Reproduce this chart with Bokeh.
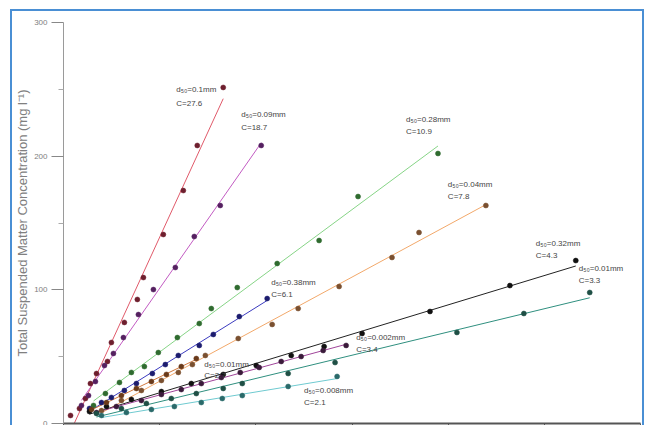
import numpy as np
from bokeh.plotting import figure
from bokeh.models import Range1d, FixedTicker
from bokeh.core.properties import value
from bokeh.embed import file_html
from bokeh.resources import INLINE

# ---------------- data ----------------
y_ticks = [0, 100, 200, 300]
y_minor = [50, 150, 250]
x_ticks = [0, 10, 20, 30, 40, 50, 60]

d50_labels = ["d₅₀=0.1mm", "d₅₀=0.09mm", "d₅₀=0.28mm", "d₅₀=0.04mm", "d₅₀=0.38mm",
              "d₅₀=0.32mm", "d₅₀=0.002mm", "d₅₀=0.01mm", "d₅₀=0.01mm", "d₅₀=0.008mm"]
c_labels = ["C=27.6", "C=18.7", "C=10.9", "C=7.8", "C=6.1",
            "C=4.3", "C=3.4", "C=2.7", "C=3.3", "C=2.1"]

s1_x = [16.61, 13.91, 12.46, 10.38, 8.31, 7.68, 6.33, 4.98, 4.57, 3.43, 2.80, 2.28, 1.66, 0.73]
s1_y = [251.4, 208.0, 174.3, 141.4, 109.2, 92.8, 75.6, 60.6, 46.4, 37.4, 29.9, 18.7, 11.2, 6.0]

s2_x = [20.56, 16.30, 13.60, 11.63, 9.35, 7.79, 6.23, 5.19, 4.26, 3.32, 2.60, 1.87]
s2_y = [208.0, 163.1, 139.9, 116.7, 100.2, 81.5, 64.3, 52.4, 43.4, 31.4, 20.9, 13.5]

s3_x = [38.94, 30.63, 26.58, 22.22, 18.07, 15.37, 14.12, 11.84, 9.86, 8.41, 7.06, 5.82, 4.36, 3.12]
s3_y = [202.0, 169.8, 136.9, 119.7, 101.7, 86.0, 74.8, 64.3, 53.1, 42.6, 38.2, 30.7, 22.4, 13.5]

s4_x = [43.92, 36.97, 34.16, 28.66, 24.40, 21.70, 18.17, 14.75, 13.40, 11.94, 10.18, 8.10, 6.02, 3.95]
s4_y = [163.1, 142.9, 124.2, 102.5, 86.0, 74.1, 63.6, 50.9, 44.1, 38.2, 32.2, 24.7, 17.2, 9.7]

s5_x = [21.18, 18.28, 15.58, 14.12, 11.94, 10.59, 9.24, 7.58, 6.33, 4.98, 3.95, 2.70]
s5_y = [93.5, 80.0, 66.6, 58.4, 50.9, 44.1, 37.4, 29.9, 24.7, 19.5, 15.7, 11.2]

s6_x = [53.27, 46.42, 38.11, 31.05, 27.10, 23.68, 20.04, 16.61, 13.29, 10.18, 7.06, 4.47, 2.70]
s6_y = [121.9, 103.2, 83.8, 67.3, 57.6, 50.9, 43.4, 36.7, 29.9, 23.9, 18.0, 12.7, 9.0]

s7_x = [29.39, 27.00, 24.71, 22.64, 20.35, 18.38, 16.41, 14.33, 12.25, 10.18, 8.10, 5.50, 3.43]
s7_y = [58.4, 54.6, 50.1, 46.4, 41.9, 38.2, 34.4, 29.9, 25.4, 21.7, 17.2, 12.7, 8.2]

s8_x = [13.81, 12.25, 10.70, 9.14, 7.58, 6.02, 4.47, 2.91]
s8_y = [48.6, 42.6, 36.7, 31.4, 26.2, 20.9, 15.7, 10.5]

s9_x = [54.72, 47.87, 40.91, 28.24, 23.36, 18.59, 16.61, 13.81, 11.21, 8.62, 6.02, 3.43]
s9_y = [98.0, 82.3, 68.1, 45.6, 37.4, 29.9, 26.2, 22.4, 18.7, 15.0, 11.2, 7.5]

s10_x = [28.45, 23.36, 18.59, 16.51, 14.33, 11.53, 9.14, 6.54, 3.95]
s10_y = [35.2, 27.7, 20.9, 18.7, 15.7, 12.7, 10.5, 8.2, 6.0]

series_x = [s1_x, s2_x, s3_x, s4_x, s5_x, s6_x, s7_x, s8_x, s9_x, s10_x]
series_y = [s1_y, s2_y, s3_y, s4_y, s5_y, s6_y, s7_y, s8_y, s9_y, s10_y]

# ---------------- styles ----------------
line_colors = ["#e05a6a", "#c25bc2", "#86d486", "#f2a86a", "#3b3bbf",
               "#222222", "#a0459a", "#d2793e", "#2f8f7f", "#6fcad0"]
point_colors = ["#6e1f2e", "#552060", "#2f6b2f", "#7a5030", "#1c1c6e",
                "#111111", "#3a1a3a", "#6a3a1a", "#1f4f45", "#2a6a6a"]
# label pixel offsets relative to each series' top point: (dx, dy line1, dy line2)
label_dx = [-47, -20, -32, -38, 4, -40, 10, 8, -11, -33]
label_dy1 = [2, -31, -34, -21, -16, -17, -8, 6, -24, 14]
label_dy2 = [16, -18, -22, -9, -4, -5, 4, 17, -12, 26]

FONT = value("Liberation Sans")
BLUE = "#4a8fd4"

p = figure(width=634, height=416, x_range=Range1d(0, 60), y_range=Range1d(0, 300),
           output_backend="svg", toolbar_location=None,
           min_border_left=50, min_border_right=6, min_border_top=11, min_border_bottom=4,
           margin=(9, 0, 0, 10),
           styles={"border-top": "2px solid " + BLUE,
                   "border-left": "2px solid " + BLUE,
                   "border-right": "2px solid " + BLUE})
p.background_fill_color = "white"
p.border_fill_color = "white"
p.outline_line_color = None
p.grid.visible = False

# y axis
p.yaxis.ticker = FixedTicker(ticks=y_ticks, minor_ticks=y_minor)
p.yaxis.axis_label = "Total Suspended Matter Concentration (mg l⁻¹)"
p.yaxis.axis_label_text_font = "Liberation Sans"
p.yaxis.axis_label_text_font_size = "13px"
p.yaxis.axis_label_text_font_style = "normal"
p.yaxis.axis_label_text_color = "#808080"
p.yaxis.axis_label_standoff = 1
p.yaxis.major_label_text_font = "Liberation Sans"
p.yaxis.major_label_text_font_size = "8px"
p.yaxis.major_label_text_color = "#808080"
p.yaxis.major_label_standoff = 4
p.yaxis.axis_line_color = "#9a9a9a"
p.yaxis.major_tick_line_color = "#888888"
p.yaxis.minor_tick_line_color = "#aaaaaa"
p.yaxis.major_tick_out = 12
p.yaxis.major_tick_in = 0
p.yaxis.minor_tick_out = 5
p.yaxis.minor_tick_in = 0

# x axis (its tick labels fall outside the reference image)
p.xaxis.ticker = FixedTicker(ticks=x_ticks, minor_ticks=[])
p.xaxis.major_label_overrides = {t: "" for t in x_ticks}
p.xaxis.major_label_standoff = 0
p.xaxis.axis_line_color = "#555555"
p.xaxis.axis_line_width = 2
p.xaxis.major_tick_line_color = "#555555"
p.xaxis.major_tick_out = 4
p.xaxis.major_tick_in = 0

for i in range(len(series_x)):
    xs = np.array(series_x[i])
    ys = np.array(series_y[i])
    k, b = np.polyfit(xs, ys, 1)
    lx = np.array([xs.min(), xs.max()])
    p.line(lx, k * lx + b, line_color=line_colors[i], line_width=1)

for i in range(len(series_x)):
    p.scatter(series_x[i], series_y[i], size=5, fill_color=point_colors[i],
              line_color=point_colors[i], line_width=0.5)

for i in range(len(series_x)):
    j = int(np.argmax(series_y[i]))
    tx, ty = series_x[i][j], series_y[i][j]
    p.text([tx], [ty], text=[d50_labels[i]], x_offset=label_dx[i], y_offset=label_dy1[i],
           text_font=FONT, text_font_size="8px", text_color="#444444",
           text_align="left", text_baseline="middle")
    p.text([tx], [ty], text=[c_labels[i]], x_offset=label_dx[i], y_offset=label_dy2[i],
           text_font=FONT, text_font_size="8px", text_color="#444444",
           text_align="left", text_baseline="middle")

open("out.html", "w").write(file_html(p, INLINE))
